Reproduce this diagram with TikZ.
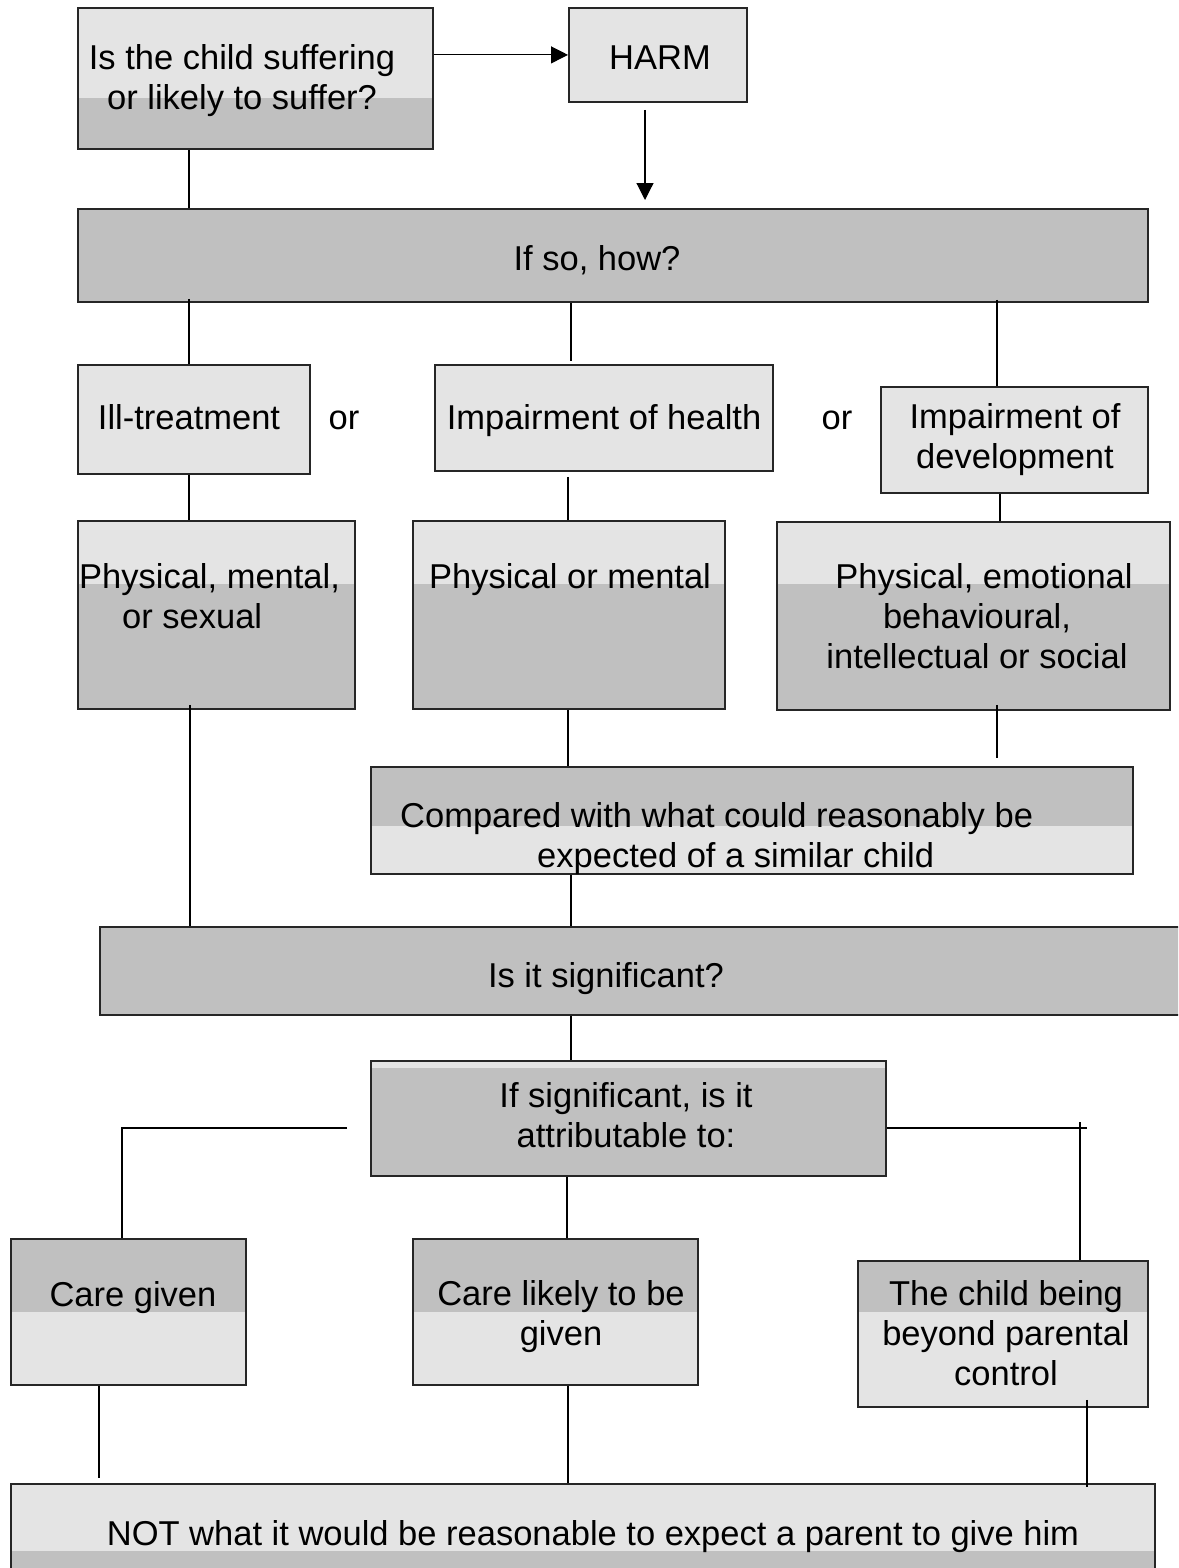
\documentclass[tikz,border=0pt]{standalone}
\usepackage{fontspec}
\setmainfont{Liberation Sans}
\usetikzlibrary{arrows.meta}
\definecolor{lightc}{RGB}{228,228,228}
\definecolor{darkc}{RGB}{192,192,192}
\newcommand\mybox[6]{%
  \node[box, #6, minimum width={#4pt-#2pt}, minimum height={#5pt-#3pt}] (#1) at (#2,#3) {};}
\begin{document}
\begin{tikzpicture}[x=1pt,y=-1pt,
  box/.style={draw=black!85, line width=1.8pt, inner sep=0pt, anchor=north west, fill=lightc},
  lt/.style={fill=lightc},
  dk/.style={fill=darkc},
  dkbelow/.style={fill=lightc, path picture={\fill[darkc] ([yshift=-#1]path picture bounding box.north west) rectangle (path picture bounding box.south east);}},
  dkabove/.style={fill=lightc, path picture={\fill[darkc] (path picture bounding box.north west) rectangle ([yshift=-#1]path picture bounding box.north east);}},
  txt/.style={font=\fontsize{34.5}{40}\selectfont, inner sep=0pt},
  one/.style={txt, text height=25pt, text depth=7pt},
  conn/.style={draw=black, line width=1.2pt},
  arr/.style={conn, -{Triangle[length=17pt,width=17pt]}}]
\useasboundingbox (0,0) rectangle (1178,1568);
\clip (0,0) rectangle (1178,1568);
\fill[white] (0,0) rectangle (1178,1568);

% boxes
\mybox{q}{77}{7}{432}{148}{dkbelow=90pt}
\mybox{harm}{568}{7}{746}{101}{lt}
\mybox{how}{77}{208}{1147}{301}{dk}
\mybox{ill}{77}{364}{309}{473}{lt}
\mybox{health}{434}{364}{772}{470}{lt}
\mybox{dev}{880}{386}{1147}{492}{lt}
\mybox{pms}{77}{520}{354}{708}{dkbelow=63pt}
\mybox{pm}{412}{520}{724}{708}{dkbelow=63pt}
\mybox{pe}{776}{521}{1169}{709}{dkbelow=62pt}
\mybox{cmp}{370}{766}{1132}{873}{dkabove=59pt}
\mybox{sig}{99}{926}{1200}{1014}{dk}
\mybox{attr}{370}{1060}{885}{1175}{dkbelow=7pt}
\mybox{cg}{10}{1238}{245}{1384}{dkabove=73pt}
\mybox{cl}{412}{1238}{697}{1384}{dkabove=73pt}
\mybox{cb}{857}{1260}{1147}{1406}{dkabove=51pt}
\mybox{nt}{10}{1483}{1154}{1600}{dkbelow=67pt}

% texts
\node[txt, align=center] (tq) at (242,81) {Is the child suffering\\or likely to suffer?};
\node[one] (tharm) at (660,61) {HARM};
\node[one] (thow) at (597,261) {If so, how?};
\node[one] (till) at (189,420) {Ill-treatment};
\node[one] (tor1) at (344,420) {or};
\node[one] (thealth) at (604,420) {Impairment of health};
\node[one] (tor2) at (837,420) {or};
\node[txt, align=center] (tdev) at (1015,440) {Impairment of\\development};
\node[txt, align=left, anchor=west] (tpms) at (79,596.5) {Physical, mental,\\\hspace*{43pt}or sexual};
\node[one] (tpm) at (570,579) {Physical or mental};
\node[txt, align=center] (tpe) at (977,616.5) {Physical, emotional\hspace*{-14pt}\\behavioural,\\intellectual or social};
\node[txt, align=left, anchor=west] (tcmp) at (400,839) {Compared with what could reasonably be\\\hspace*{137pt}expected of a similar child};
\node[one] (tsig) at (606,978) {Is it significant?};
\node[txt, align=center] (tattr) at (626,1115.5) {If significant, is it\\attributable to:};
\node[one] (tcg) at (133,1297) {Care given};
\node[txt, align=center] (tcl) at (561,1317) {Care likely to be\\given};
\node[txt, align=center] (tcb) at (1006,1333.5) {The child being\\beyond parental\\control};
\node[one] (tnt) at (593,1536) {NOT what it would be reasonable to expect a parent to give him};

% column coordinates and free ends
\coordinate (c99) at (99,0);
\coordinate (c122) at (122,0);
\coordinate (c189) at (189,0);
\coordinate (c190) at (190,0);
\coordinate (c567) at (567,0);
\coordinate (c568) at (568,0);
\coordinate (c571) at (571,0);
\coordinate (c645) at (645,0);
\coordinate (c997) at (997,0);
\coordinate (c1000) at (1000,0);
\coordinate (c1080) at (1080,0);
\coordinate (c1087) at (1087,0);
\coordinate (peEnd) at (997,758);
\coordinate (attrL) at (347,1128);
\coordinate (attrR) at (1087,1128);
\coordinate (rTop) at (1080,1122);
\coordinate (cgEnd) at (99,1478);

% connectors
\draw[arr] (q.east |- harm.west) -- (harm.west);
\draw[arr] ([yshift=-7pt]harm.south -| c645) -- ([yshift=8pt]how.north -| c645);
\draw[conn] (q.south -| c189) -- (how.north -| c189);
\draw[conn] ([yshift=4pt]how.south -| c189) -- (ill.north -| c189);
\draw[conn] (how.south -| c571) -- ([yshift=3pt]health.north -| c571);
\draw[conn] ([yshift=3pt]how.south -| c997) -- (dev.north -| c997);
\draw[conn] (ill.south -| c189) -- (pms.north -| c189);
\draw[conn] ([yshift=-5pt]health.south -| c568) -- (pm.north -| c568);
\draw[conn] (dev.south -| c1000) -- (pe.north -| c1000);
\draw[conn] ([yshift=5pt]pms.south -| c190) -- (sig.north -| c190);
\draw[conn] (pm.south -| c568) -- (cmp.north -| c568);
\draw[conn] ([yshift=6pt]pe.south -| c997) -- (peEnd);
\draw[conn] (cmp.south -| c571) -- (sig.north -| c571);
\draw[conn] (sig.south -| c571) -- (attr.north -| c571);
\draw[conn] (attrL) -| (cg.north -| c122);
\draw[conn] (attr.south -| c567) -- (cl.north -| c567);
\draw[conn] (attr.east |- attrL) -- (attrR);
\draw[conn] (rTop) -- (cb.north -| c1080);
\draw[conn] (cg.south -| c99) -- (cgEnd);
\draw[conn] (cl.south -| c568) -- (nt.north -| c568);
\draw[conn] ([yshift=8pt]cb.south -| c1087) -- ([yshift=-4pt]nt.north -| c1087);
\end{tikzpicture}
\end{document}
